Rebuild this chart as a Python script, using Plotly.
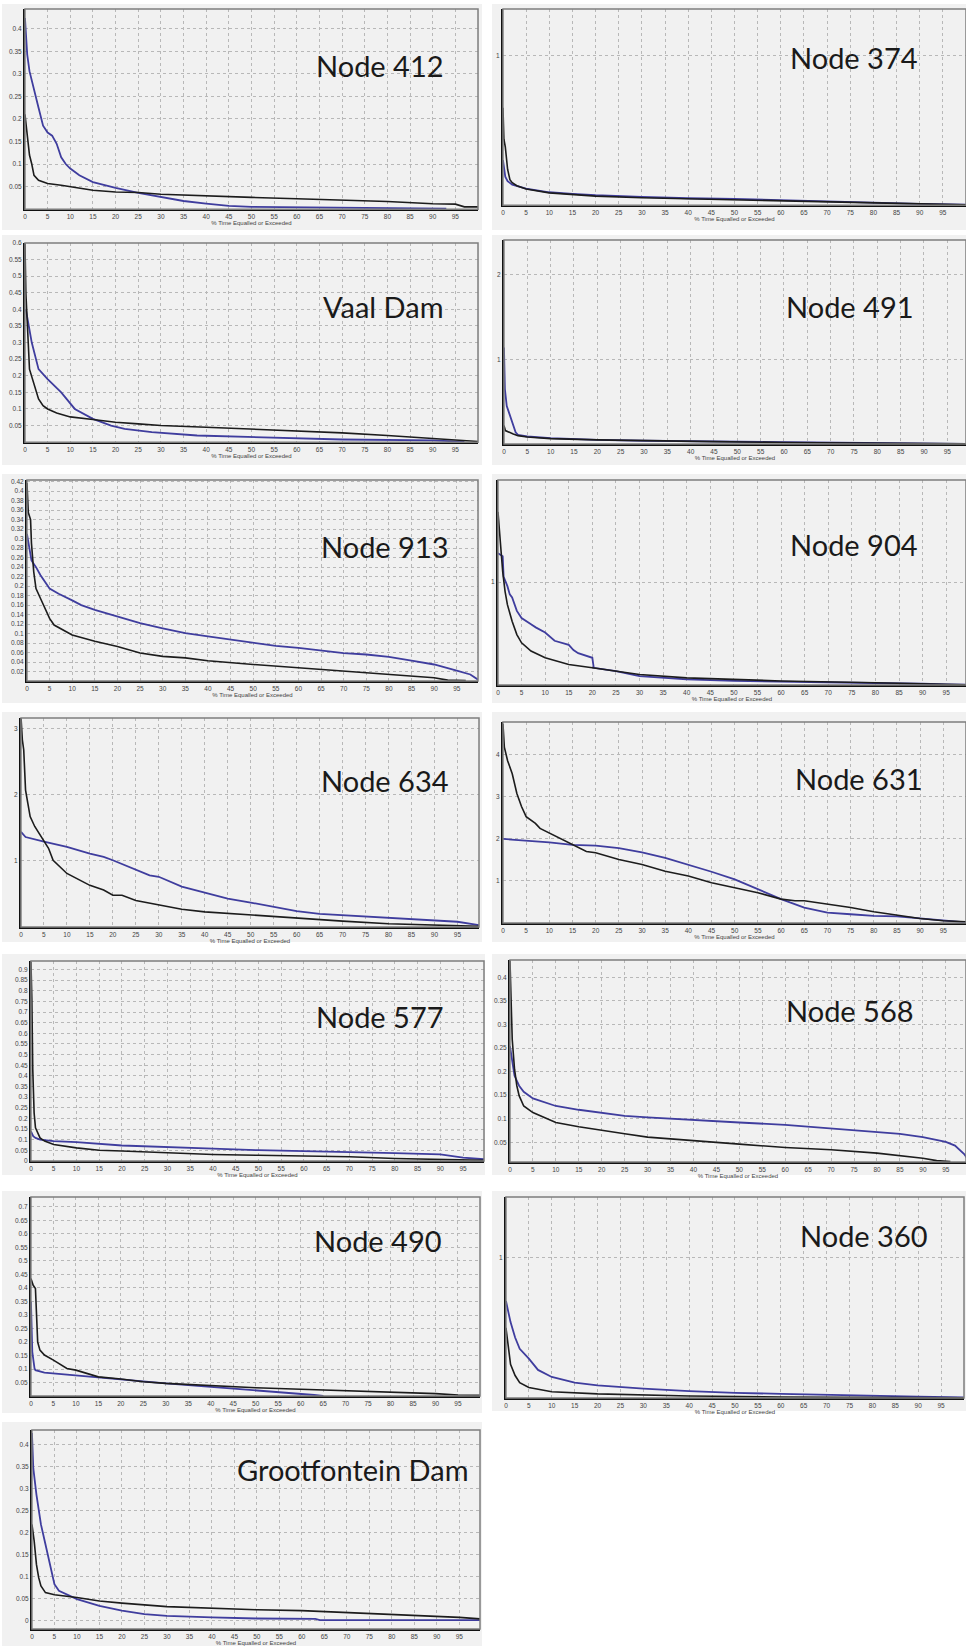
import plotly.graph_objects as go

W, H = 966, 1649

# ---------------- data ----------------
panel_titles = ["Node 412", "Node 374", "Vaal Dam", "Node 491", "Node 913", "Node 904",
                "Node 634", "Node 631", "Node 577", "Node 568", "Node 490", "Node 360",
                "Grootfontein Dam"]

x_ticks = [0, 5, 10, 15, 20, 25, 30, 35, 40, 45, 50, 55, 60, 65, 70, 75, 80, 85, 90, 95]
x_ticks_100 = [0, 5, 10, 15, 20, 25, 30, 35, 40, 45, 50, 55, 60, 65, 70, 75, 80, 85, 90, 95, 100]

n412_k_x = [0, 0.5, 1, 1.5, 2, 3, 5, 8, 10, 15, 20, 25, 30, 40, 50, 60, 70, 80, 90, 95, 97, 100]
n412_k_y = [0.21, 0.16, 0.12, 0.1, 0.075, 0.064, 0.057, 0.053, 0.05, 0.042, 0.038, 0.037, 0.033, 0.029, 0.026, 0.023, 0.02, 0.017, 0.012, 0.011, 0.005, 0.005]
n412_b_x = [0, 0.5, 1, 2, 3, 4, 5, 6, 7, 8, 9, 10, 12, 15, 20, 25, 30, 35, 40, 45, 50, 60, 70, 80, 93]
n412_b_y = [0.424, 0.343, 0.306, 0.262, 0.225, 0.185, 0.17, 0.163, 0.145, 0.115, 0.1, 0.09, 0.075, 0.06, 0.047, 0.036, 0.027, 0.018, 0.012, 0.007, 0.005, 0.004, 0.002, 0.002, 0.001]
n412_yticks = [0.05, 0.1, 0.15, 0.2, 0.25, 0.3, 0.35, 0.4]

n374_k_x = [0, 0.2, 0.5, 1, 1.5, 2, 3, 5, 10, 15, 20, 30, 40, 50, 60, 70, 80, 90, 100]
n374_k_y = [0.65, 0.44, 0.39, 0.24, 0.17, 0.15, 0.13, 0.108, 0.082, 0.071, 0.06, 0.049, 0.042, 0.033, 0.027, 0.02, 0.011, 0.007, 0.002]
n374_b_x = [0, 0.5, 1, 2, 5, 10, 15, 20, 30, 40, 50, 60, 70, 80, 90, 100]
n374_b_y = [0.3, 0.19, 0.16, 0.137, 0.11, 0.086, 0.075, 0.066, 0.055, 0.046, 0.042, 0.033, 0.024, 0.015, 0.009, 0.004]
n374_yticks = [1]

vaal_k_x = [0, 0.2, 1, 3, 4, 5, 7, 10, 15, 20, 25, 30, 40, 50, 60, 70, 80, 90, 96, 100]
vaal_k_y = [0.6, 0.45, 0.22, 0.13, 0.11, 0.1, 0.088, 0.076, 0.068, 0.06, 0.055, 0.05, 0.045, 0.04, 0.033, 0.028, 0.02, 0.012, 0.005, 0.002]
vaal_b_x = [0.2, 1, 1.5, 3, 5, 8, 11, 15, 19, 22, 28, 38, 50, 60, 70, 90, 97]
vaal_b_y = [0.4, 0.34, 0.3, 0.22, 0.19, 0.15, 0.1, 0.07, 0.05, 0.04, 0.03, 0.02, 0.015, 0.01, 0.008, 0.005, 0.001]
vaal_yticks = [0.05, 0.1, 0.15, 0.2, 0.25, 0.3, 0.35, 0.4, 0.45, 0.5, 0.55, 0.6]

n491_k_x = [0, 0.3, 2, 3, 5, 10, 20, 30, 45, 60, 80, 95, 100]
n491_k_y = [0.22, 0.16, 0.12, 0.1, 0.085, 0.065, 0.05, 0.04, 0.03, 0.02, 0.012, 0.005, 0.003]
n491_b_x = [0, 0.2, 0.6, 1.5, 2.5, 3, 5, 10, 20, 30, 50, 60, 80, 90, 95, 100]
n491_b_y = [1.14, 0.65, 0.45, 0.3, 0.14, 0.11, 0.09, 0.07, 0.05, 0.04, 0.03, 0.025, 0.02, 0.015, 0.005, 0.002]
n491_yticks = [1, 2]

n913_k_x = [0, 0.3, 0.8, 1, 1.5, 2, 3, 4, 5, 6, 8, 10, 15, 20, 25, 30, 35, 40, 50, 60, 70, 80, 90, 93, 97]
n913_k_y = [0.417, 0.355, 0.34, 0.29, 0.23, 0.195, 0.174, 0.153, 0.132, 0.118, 0.108, 0.097, 0.084, 0.073, 0.059, 0.052, 0.049, 0.043, 0.035, 0.028, 0.021, 0.014, 0.007, 0.002, 0.001]
n913_b_x = [0, 0.5, 1, 2, 3, 5, 7, 10, 12, 15, 20, 25, 30, 35, 40, 45, 50, 55, 60, 65, 70, 75, 80, 85, 90, 95, 98, 100]
n913_b_y = [0.31, 0.278, 0.254, 0.24, 0.223, 0.195, 0.184, 0.17, 0.16, 0.15, 0.136, 0.122, 0.111, 0.101, 0.094, 0.087, 0.08, 0.074, 0.07, 0.064, 0.059, 0.056, 0.051, 0.043, 0.035, 0.022, 0.014, 0.001]
n913_yticks = [0.02, 0.04, 0.06, 0.08, 0.1, 0.12, 0.14, 0.16, 0.18, 0.2, 0.22, 0.24, 0.26, 0.28, 0.3,
               0.32, 0.34, 0.36, 0.38, 0.4, 0.42]

n904_k_x = [0, 0.3, 0.8, 1, 1.5, 2, 3, 4, 5, 7, 10, 15, 20, 25, 30, 40, 50, 60, 80, 95, 100]
n904_k_y = [1.68, 1.49, 1.26, 1.1, 0.91, 0.78, 0.62, 0.49, 0.41, 0.33, 0.265, 0.2, 0.168, 0.135, 0.103, 0.07, 0.055, 0.04, 0.023, 0.006, 0.003]
n904_b_x = [0, 1, 1.2, 1.5, 2, 2.5, 3, 4, 5, 7, 8, 10, 11, 12, 15, 16, 17, 20, 20.3, 25, 30, 40, 50, 70, 90, 95, 100]
n904_b_y = [1.28, 1.25, 1.05, 1.02, 0.96, 0.88, 0.85, 0.72, 0.65, 0.59, 0.56, 0.51, 0.47, 0.43, 0.39, 0.34, 0.31, 0.265, 0.168, 0.135, 0.087, 0.055, 0.04, 0.03, 0.013, 0.006, 0.004]
n904_yticks = [1]

n634_k_x = [0, 0.3, 0.6, 1, 1.5, 2, 3, 4, 5, 6, 7, 10, 15, 18, 20, 22, 25, 30, 35, 40, 50, 60, 70, 80, 90, 95, 100]
n634_k_y = [3.18, 2.83, 2.68, 2.07, 1.87, 1.67, 1.52, 1.41, 1.29, 1.19, 1.01, 0.81, 0.63, 0.56, 0.48, 0.48, 0.4, 0.33, 0.27, 0.23, 0.18, 0.13, 0.09, 0.05, 0.025, 0.015, 0.01]
n634_b_x = [0, 1, 5, 10, 15, 18, 20, 25, 28, 30, 35, 40, 45, 50, 55, 60, 65, 70, 75, 80, 85, 90, 95, 100]
n634_b_y = [1.44, 1.36, 1.29, 1.21, 1.11, 1.06, 1.01, 0.86, 0.78, 0.76, 0.61, 0.52, 0.43, 0.37, 0.3, 0.24, 0.2, 0.18, 0.15, 0.13, 0.11, 0.1, 0.08, 0.025]
n634_yticks = [1, 2, 3]

n631_k_x = [0, 0.3, 1, 2, 3, 4, 5, 7, 8, 10, 12, 15, 18, 20, 25, 30, 35, 40, 45, 50, 55, 60, 63, 65, 70, 75, 80, 85, 90, 95, 100]
n631_k_y = [4.73, 4.18, 3.86, 3.55, 3.08, 2.77, 2.53, 2.37, 2.25, 2.14, 2.02, 1.86, 1.7, 1.67, 1.51, 1.39, 1.23, 1.12, 0.96, 0.84, 0.72, 0.57, 0.53, 0.53, 0.45, 0.37, 0.27, 0.19, 0.11, 0.055, 0.03]
n631_b_x = [0, 5, 10, 15, 20, 25, 30, 35, 40, 45, 50, 55, 60, 65, 70, 75, 80, 85, 90, 95, 100]
n631_b_y = [2.0, 1.96, 1.92, 1.86, 1.84, 1.78, 1.68, 1.55, 1.39, 1.22, 1.04, 0.8, 0.57, 0.37, 0.25, 0.21, 0.17, 0.16, 0.11, 0.055, 0.016]
n631_yticks = [1, 2, 3, 4]

n577_k_x = [0, 0.2, 0.4, 0.7, 1, 2, 3, 5, 10, 15, 20, 30, 40, 50, 60, 70, 80, 90, 100]
n577_k_y = [0.936, 0.76, 0.43, 0.226, 0.156, 0.109, 0.094, 0.078, 0.062, 0.051, 0.047, 0.039, 0.031, 0.027, 0.023, 0.02, 0.012, 0.008, 0.003]
n577_b_x = [0, 0.5, 1, 2, 5, 10, 20, 30, 40, 50, 60, 70, 80, 90, 95, 100]
n577_b_y = [0.14, 0.117, 0.109, 0.101, 0.094, 0.089, 0.073, 0.067, 0.058, 0.051, 0.045, 0.042, 0.037, 0.031, 0.016, 0.008]
n577_yticks = [0, 0.05, 0.1, 0.15, 0.2, 0.25, 0.3, 0.35, 0.4, 0.45, 0.5, 0.55, 0.6, 0.65, 0.7, 0.75,
               0.8, 0.85, 0.9]

n568_k_x = [0, 0.2, 0.5, 1, 1.5, 2, 3, 5, 7, 10, 15, 20, 25, 30, 35, 40, 50, 60, 70, 80, 90, 93, 96]
n568_k_y = [0.437, 0.367, 0.268, 0.205, 0.17, 0.149, 0.127, 0.113, 0.105, 0.092, 0.083, 0.075, 0.068, 0.061, 0.057, 0.054, 0.046, 0.039, 0.034, 0.027, 0.016, 0.011, 0.009]
n568_b_x = [0, 0.5, 1, 2, 3, 5, 7, 10, 15, 20, 25, 30, 40, 50, 60, 70, 80, 85, 90, 95, 97, 99, 100]
n568_b_y = [0.254, 0.219, 0.191, 0.17, 0.157, 0.143, 0.136, 0.127, 0.119, 0.112, 0.106, 0.103, 0.097, 0.092, 0.087, 0.08, 0.073, 0.068, 0.061, 0.051, 0.043, 0.025, 0.011]
n568_yticks = [0.05, 0.1, 0.15, 0.2, 0.25, 0.3, 0.35, 0.4]

n490_k_x = [0, 0.5, 1, 1.2, 1.5, 2, 3, 5, 8, 10, 15, 20, 25, 30, 40, 50, 60, 70, 80, 90, 95, 100]
n490_k_y = [0.435, 0.41, 0.398, 0.324, 0.2, 0.17, 0.152, 0.133, 0.102, 0.096, 0.071, 0.063, 0.053, 0.047, 0.038, 0.031, 0.025, 0.02, 0.016, 0.009, 0.004, 0.003]
n490_b_x = [0, 0.3, 0.8, 1, 3, 5, 10, 15, 20, 25, 30, 40, 50, 55, 60, 63, 65]
n490_b_y = [0.349, 0.164, 0.102, 0.096, 0.087, 0.084, 0.078, 0.069, 0.062, 0.053, 0.047, 0.034, 0.022, 0.016, 0.009, 0.004, 0.001]
n490_yticks = [0.05, 0.1, 0.15, 0.2, 0.25, 0.3, 0.35, 0.4, 0.45, 0.5, 0.55, 0.6, 0.65, 0.7]

n360_k_x = [0, 1, 2, 3, 5, 10, 20, 40, 60, 100]
n360_k_y = [0.5, 0.24, 0.16, 0.11, 0.075, 0.045, 0.03, 0.015, 0.008, 0.002]
n360_b_x = [0, 1, 2, 3, 5, 7, 10, 15, 20, 30, 40, 50, 60, 70, 80, 90, 100]
n360_b_y = [0.69, 0.54, 0.43, 0.35, 0.28, 0.2, 0.15, 0.11, 0.09, 0.067, 0.05, 0.037, 0.03, 0.022, 0.015, 0.01, 0.005]
n360_yticks = [1]

gf_k_x = [0, 0.5, 1, 1.5, 2, 3, 5, 7, 10, 15, 20, 30, 40, 50, 60, 70, 80, 90, 95, 100]
gf_k_y = [0.219, 0.181, 0.128, 0.098, 0.079, 0.064, 0.059, 0.057, 0.053, 0.045, 0.04, 0.032, 0.028, 0.025, 0.023, 0.019, 0.015, 0.011, 0.0075, 0.004]
gf_b_x = [0, 0.3, 1, 2, 3, 4, 4.5, 5, 6, 8, 10, 15, 20, 25, 30, 40, 50, 63, 64, 100]
gf_b_y = [0.427, 0.347, 0.287, 0.219, 0.174, 0.128, 0.106, 0.083, 0.068, 0.059, 0.049, 0.034, 0.023, 0.015, 0.011, 0.0075, 0.005, 0.004, 0.0015, 0.0015]
gf_yticks = [0, 0.05, 0.1, 0.15, 0.2, 0.25, 0.3, 0.35, 0.4]

x_title = "% Time Equalled or Exceeded"

# ---------------- layout spec (pixel geometry) ----------------
panels = [
    dict(k=(n412_k_x, n412_k_y), b=(n412_b_x, n412_b_y), yt=n412_yticks, yr=(0, 0.444),
         box=(23, 477, 5, 206), outer=(0, 481, 0, 227), lab=(379, 62), xt=x_ticks, xr=(0, 100)),
    dict(k=(n374_k_x, n374_k_y), b=(n374_b_x, n374_b_y), yt=n374_yticks, yr=(0, 1.31),
         box=(502, 966, 5, 202), outer=(491, 966, 0, 227), lab=(854, 54), xt=x_ticks, xr=(0, 100)),
    dict(k=(vaal_k_x, vaal_k_y), b=(vaal_b_x, vaal_b_y), yt=vaal_yticks, yr=(0, 0.6),
         box=(23, 477, 240, 440), outer=(0, 481, 232, 463), lab=(382, 304), xt=x_ticks, xr=(0, 100)),
    dict(k=(n491_k_x, n491_k_y), b=(n491_b_x, n491_b_y), yt=n491_yticks, yr=(0, 2.41),
         box=(503, 966, 237, 442), outer=(491, 966, 232, 463), lab=(850, 304), xt=x_ticks, xr=(0, 99)),
    dict(k=(n913_k_x, n913_k_y), b=(n913_b_x, n913_b_y), yt=n913_yticks, yr=(0, 0.4235),
         box=(25, 477, 478, 680), outer=(0, 481, 472, 702), lab=(384, 545), xt=x_ticks, xr=(0, 99.7)),
    dict(k=(n904_k_x, n904_k_y), b=(n904_b_x, n904_b_y), yt=n904_yticks, yr=(0, 1.99),
         box=(497, 966, 478, 684), outer=(491, 966, 472, 702), lab=(854, 543), xt=x_ticks, xr=(0, 99.2)),
    dict(k=(n634_k_x, n634_k_y), b=(n634_b_x, n634_b_y), yt=n634_yticks, yr=(0, 3.16),
         box=(19, 478, 717, 927), outer=(0, 481, 711, 942), lab=(384, 780), xt=x_ticks, xr=(0, 99.7)),
    dict(k=(n631_k_x, n631_k_y), b=(n631_b_x, n631_b_y), yt=n631_yticks, yr=(0, 4.78),
         box=(502, 966, 721, 923), outer=(491, 966, 711, 942), lab=(859, 778), xt=x_ticks, xr=(0, 99.9)),
    dict(k=(n577_k_x, n577_k_y), b=(n577_b_x, n577_b_y), yt=n577_yticks, yr=(0, 0.94),
         box=(29, 483, 961, 1162), outer=(0, 484, 954, 1176), lab=(379, 1017), xt=x_ticks, xr=(0, 99.6)),
    dict(k=(n568_k_x, n568_k_y), b=(n568_b_x, n568_b_y), yt=n568_yticks, yr=(0.008, 0.437),
         box=(509, 966, 960, 1163), outer=(491, 966, 954, 1176), lab=(850, 1011), xt=x_ticks, xr=(0, 99.4)),
    dict(k=(n490_k_x, n490_k_y), b=(n490_b_x, n490_b_y), yt=n490_yticks, yr=(0, 0.737),
         box=(29, 479, 1198, 1398), outer=(0, 481, 1192, 1415), lab=(377, 1242), xt=x_ticks, xr=(0, 99.9)),
    dict(k=(n360_k_x, n360_k_y), b=(n360_b_x, n360_b_y), yt=n360_yticks, yr=(0, 1.43),
         box=(505, 964, 1198, 1400), outer=(491, 966, 1192, 1413), lab=(864, 1237), xt=x_ticks_100, xr=(0, 100)),
    dict(k=(gf_k_x, gf_k_y), b=(gf_b_x, gf_b_y), yt=gf_yticks, yr=(-0.019, 0.434),
         box=(30, 479, 1432, 1632), outer=(0, 481, 1424, 1649), lab=(352, 1472), xt=x_ticks, xr=(0, 99.6)),
]

BLACK = "#1c1c1c"
BLUE = "#3f3d9e"
GRID = "#b8b8b8"

def px(x):
    return x / W

def py(y):
    return 1 - y / H

fig = go.Figure()
shapes = []
annotations = []
layout = {}

for i, (p, title) in enumerate(zip(panels, panel_titles)):
    n = i + 1
    xa = "x" if n == 1 else f"x{n}"
    ya = "y" if n == 1 else f"y{n}"
    xkey = "xaxis" if n == 1 else f"xaxis{n}"
    ykey = "yaxis" if n == 1 else f"yaxis{n}"
    l, r, t, b = p["box"]
    ol, orr, ot, ob = p["outer"]

    shapes.append(dict(type="rect", xref="paper", yref="paper", x0=px(ol), x1=px(orr),
                       y0=py(ob), y1=py(ot), fillcolor="#f1f1f1", line=dict(width=0), layer="below"))
    shapes.append(dict(type="rect", xref=f"{xa} domain", yref=f"{ya} domain", x0=0, x1=1, y0=0, y1=1,
                       fillcolor="rgba(0,0,0,0)", line=dict(color="#7d7d7d", width=1.5), layer="above"))

    layout[xkey] = dict(domain=[px(l), px(r)], anchor=ya, range=list(p["xr"]),
                        tickvals=p["xt"], ticktext=[str(v) for v in p["xt"]],
                        showgrid=True, gridcolor=GRID, griddash="dot", gridwidth=1,
                        zeroline=False, showline=True, linecolor="#111111", linewidth=2,
                        ticks="", tickfont=dict(size=6.5, color="#444444", family="Arial"),
                        title=dict(text=x_title, font=dict(size=6, color="#444444", family="Arial"), standoff=1),
                        fixedrange=True)
    layout[ykey] = dict(domain=[py(b), py(t)], anchor=xa, range=list(p["yr"]),
                        tickvals=p["yt"], ticktext=[f"{v:g}" for v in p["yt"]],
                        showgrid=True, gridcolor=GRID, griddash="dot", gridwidth=1,
                        zeroline=False, showline=True, linecolor="#111111", linewidth=2,
                        ticks="", tickfont=dict(size=6.5, color="#444444", family="Arial"),
                        fixedrange=True)

    fig.add_trace(go.Scatter(x=p["b"][0], y=p["b"][1], mode="lines", xaxis=xa, yaxis=ya,
                             line=dict(color=BLUE, width=1.8),
                             showlegend=False, name="Blue"))
    fig.add_trace(go.Scatter(x=p["k"][0], y=p["k"][1], mode="lines", xaxis=xa, yaxis=ya,
                             line=dict(color=BLACK, width=1.6), showlegend=False, name="Black"))

    annotations.append(dict(text=title, xref="paper", yref="paper", x=px(p["lab"][0]), y=py(p["lab"][1]),
                            xanchor="center", yanchor="middle", showarrow=False,
                            font=dict(family="Lato", size=29, color="#1a1a1a")))

fig.update_layout(width=W, height=H, margin=dict(l=0, r=0, t=0, b=0),
                  paper_bgcolor="white", plot_bgcolor="#eeeeee",
                  shapes=shapes, annotations=annotations, **layout)

fig.write_html("out.html")
